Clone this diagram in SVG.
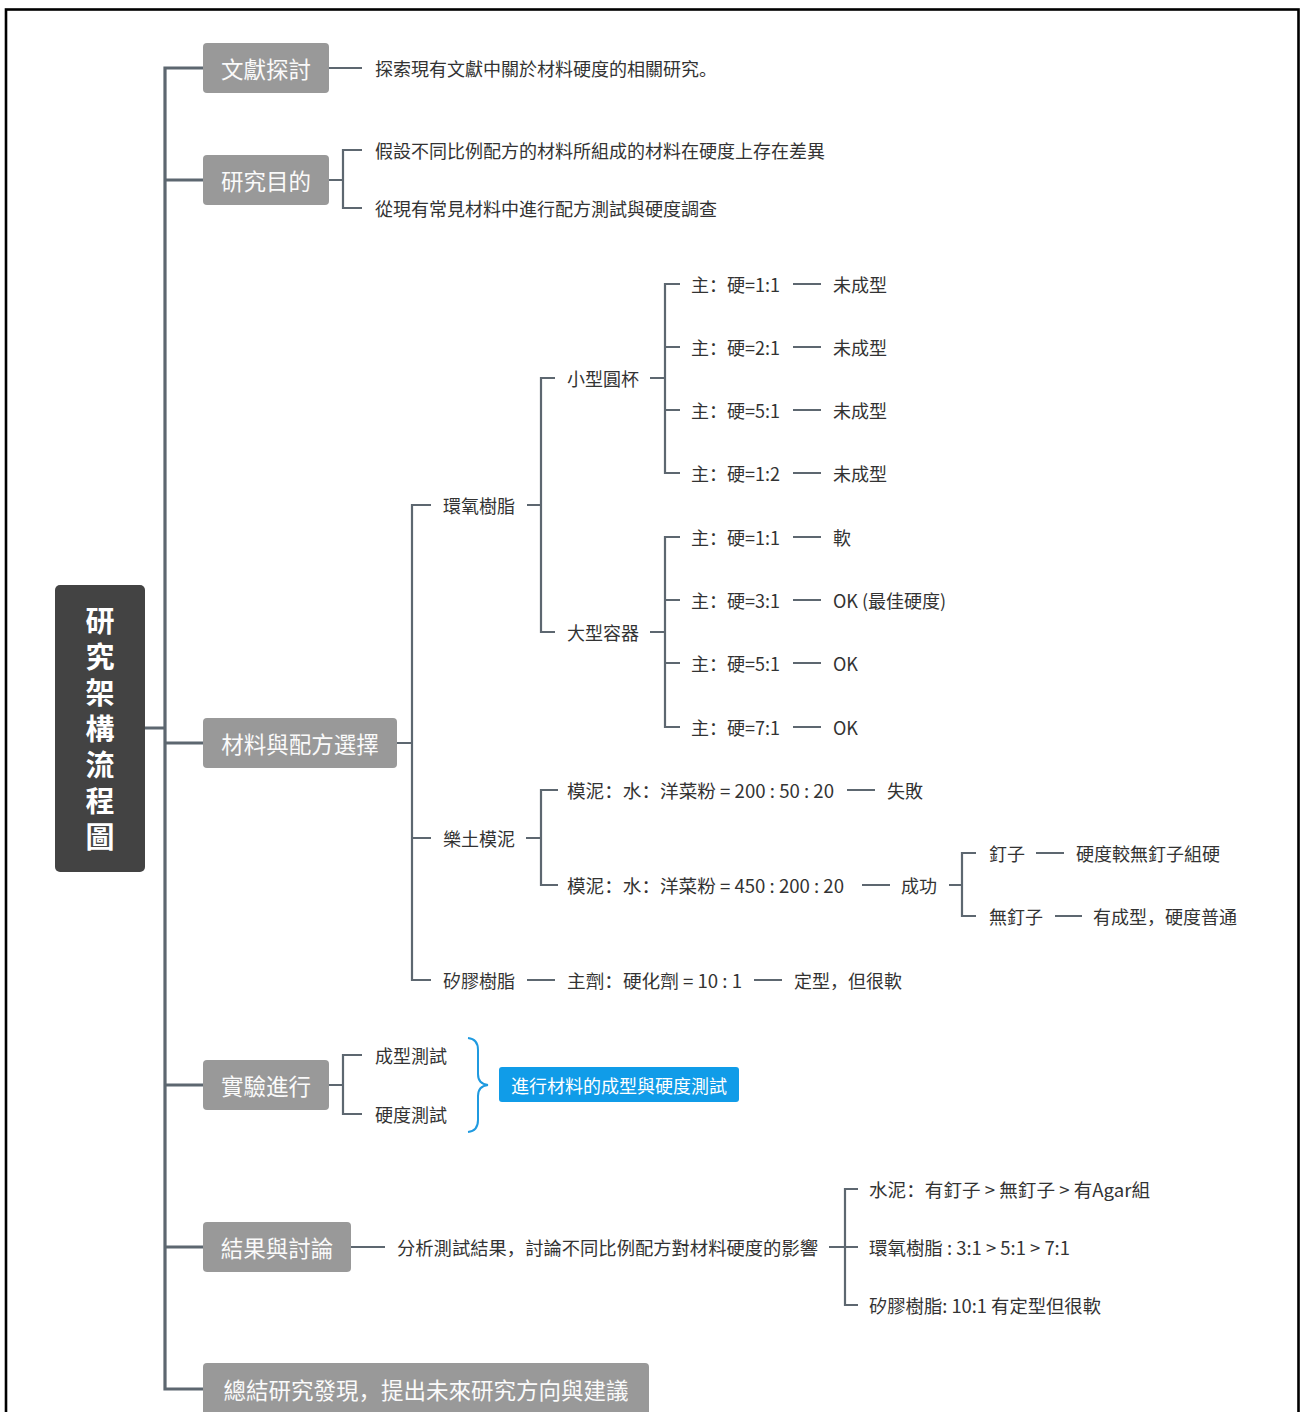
<svg xmlns="http://www.w3.org/2000/svg" width="1301" height="1412" viewBox="0 0 1301 1412">
<style>
.t{font-family:"Noto Sans CJK SC","Noto Sans CJK TC",sans-serif;font-size:18px;fill:#333;dominant-baseline:central}
.bt{font-family:"Noto Sans CJK SC","Noto Sans CJK TC",sans-serif;font-size:22.5px;fill:#fafafa;dominant-baseline:central;text-anchor:middle}
.rt{font-family:"Noto Sans CJK TC","Noto Sans CJK SC",sans-serif;font-size:29px;font-weight:bold;fill:#fff;writing-mode:vertical-rl;letter-spacing:7px}
.box{fill:#999999}
.c1{fill:none;stroke:#5d6770;stroke-width:3.2}
.c2{fill:none;stroke:#5d6770;stroke-width:2.2}
</style>
<rect x="0" y="0" width="1301" height="1412" fill="#fff"/>
<rect x="6" y="9.5" width="1292.5" height="1420" fill="none" stroke="#000" stroke-width="2.6"/>

<g id="connectors">
<path class="c1" d="M145,728 H165 M203,68 H165 V1389 H203 M165,180 H203 M165,743 H203 M165,1085 H203 M165,1247 H203"/>
<path class="c2" d="M329,68 H362"/>
<path class="c2" d="M329,180 H343 M362,150 H343 V208 H362"/>
<path class="c2" d="M397,743 H412 M431,505 H412 V980 H431 M412,838 H431"/>
<path class="c2" d="M527,505 H541 M555,378 H541 V632 H555"/>
<path class="c2" d="M650,378 H665 M680,284 H665 V473 H680 M665,347 H680 M665,410 H680"/>
<path class="c2" d="M793,284 H821 M793,347 H821 M793,410 H821 M793,473 H821"/>
<path class="c2" d="M650,632 H665 M680,537 H665 V727 H680 M665,600 H680 M665,663 H680"/>
<path class="c2" d="M793,537 H821 M793,600 H821 M793,663 H821 M793,727 H821"/>
<path class="c2" d="M526,838 H541 M558,790 H541 V885 H558"/>
<path class="c2" d="M847,790 H875 M862,885 H890"/>
<path class="c2" d="M949,885 H962 M976,853 H962 V916 H976"/>
<path class="c2" d="M1036,853 H1064 M1055,916 H1082"/>
<path class="c2" d="M527,980 H555 M754,980 H782"/>
<path class="c2" d="M329,1085 H343 M362,1055 H343 V1114 H362"/>
<path class="c2" d="M351,1247 H385 M829,1247 H858 M858,1189 H845 V1305 H858"/>
<path fill="none" stroke="#1f9ae0" stroke-width="2" d="M468,1038 Q478,1039 478,1050 V1074 Q478,1084 488,1085 Q478,1086 478,1096 V1120 Q478,1131 468,1132"/>
</g>

<g id="root">
<rect x="55" y="585" width="90" height="287" rx="5" fill="#434343"/>
<text class="rt" x="100" y="606.5">研究架構流程圖</text>
</g>

<g id="n-literature">
<rect class="box" x="203" y="43" width="126" height="50" rx="4"/>
<text class="bt" x="266" y="68">文獻探討</text>
</g>
<g id="n-literature-1"><text class="t" x="375" y="68">探索現有文獻中關於材料硬度的相關研究。</text></g>

<g id="n-purpose">
<rect class="box" x="203" y="155" width="126" height="50" rx="4"/>
<text class="bt" x="266" y="180">研究目的</text>
</g>
<g id="n-purpose-1"><text class="t" x="375" y="150">假設不同比例配方的材料所組成的材料在硬度上存在差異</text></g>
<g id="n-purpose-2"><text class="t" x="375" y="208">從現有常見材料中進行配方測試與硬度調查</text></g>

<g id="n-material">
<rect class="box" x="203" y="718" width="194" height="50" rx="4"/>
<text class="bt" x="300" y="743">材料與配方選擇</text>
</g>
<g id="n-epoxy"><text class="t" x="443" y="505">環氧樹脂</text></g>
<g id="n-small"><text class="t" x="567" y="378">小型圓杯</text></g>
<g id="n-s1"><text class="t" x="691" y="284">主：硬=1:1</text><text class="t" x="833" y="284">未成型</text></g>
<g id="n-s2"><text class="t" x="691" y="347">主：硬=2:1</text><text class="t" x="833" y="347">未成型</text></g>
<g id="n-s3"><text class="t" x="691" y="410">主：硬=5:1</text><text class="t" x="833" y="410">未成型</text></g>
<g id="n-s4"><text class="t" x="691" y="473">主：硬=1:2</text><text class="t" x="833" y="473">未成型</text></g>
<g id="n-large"><text class="t" x="567" y="632">大型容器</text></g>
<g id="n-l1"><text class="t" x="691" y="537">主：硬=1:1</text><text class="t" x="833" y="537">軟</text></g>
<g id="n-l2"><text class="t" x="691" y="600">主：硬=3:1</text><text class="t" x="833" y="600">OK (最佳硬度)</text></g>
<g id="n-l3"><text class="t" x="691" y="663">主：硬=5:1</text><text class="t" x="833" y="663">OK</text></g>
<g id="n-l4"><text class="t" x="691" y="727">主：硬=7:1</text><text class="t" x="833" y="727">OK</text></g>

<g id="n-clay"><text class="t" x="443" y="838">樂土模泥</text></g>
<g id="n-c1"><text class="t" x="567" y="790" textLength="267" lengthAdjust="spacingAndGlyphs">模泥：水：洋菜粉 = 200 : 50 : 20</text><text class="t" x="887" y="790">失敗</text></g>
<g id="n-c2"><text class="t" x="567" y="885" textLength="277" lengthAdjust="spacingAndGlyphs">模泥：水：洋菜粉 = 450 : 200 : 20</text><text class="t" x="901" y="885">成功</text></g>
<g id="n-nail"><text class="t" x="989" y="853">釘子</text><text class="t" x="1076" y="853">硬度較無釘子組硬</text></g>
<g id="n-nonail"><text class="t" x="989" y="916">無釘子</text><text class="t" x="1093" y="916">有成型，硬度普通</text></g>

<g id="n-silicone"><text class="t" x="443" y="980">矽膠樹脂</text><text class="t" x="567" y="980" textLength="175" lengthAdjust="spacingAndGlyphs">主劑：硬化劑 = 10 : 1</text><text class="t" x="794" y="980">定型，但很軟</text></g>

<g id="n-experiment">
<rect class="box" x="203" y="1060" width="126" height="50" rx="4"/>
<text class="bt" x="266" y="1085">實驗進行</text>
</g>
<g id="n-e1"><text class="t" x="375" y="1055">成型測試</text></g>
<g id="n-e2"><text class="t" x="375" y="1114">硬度測試</text></g>
<g id="n-summary-blue">
<rect x="499" y="1067" width="240" height="35" rx="3" fill="#109ce8"/>
<text class="t" x="619" y="1085" style="fill:#fff;text-anchor:middle">進行材料的成型與硬度測試</text>
</g>

<g id="n-results">
<rect class="box" x="203" y="1222" width="148" height="50" rx="4"/>
<text class="bt" x="277" y="1247">結果與討論</text>
</g>
<g id="n-r0"><text class="t" x="397" y="1247" textLength="421" lengthAdjust="spacingAndGlyphs">分析測試結果，討論不同比例配方對材料硬度的影響</text></g>
<g id="n-r1"><text class="t" x="869" y="1189" textLength="281" lengthAdjust="spacingAndGlyphs">水泥：有釘子 &gt; 無釘子 &gt; 有Agar組</text></g>
<g id="n-r2"><text class="t" x="869" y="1247" textLength="201" lengthAdjust="spacingAndGlyphs">環氧樹脂 : 3:1 &gt; 5:1 &gt; 7:1</text></g>
<g id="n-r3"><text class="t" x="869" y="1305" textLength="232" lengthAdjust="spacingAndGlyphs">矽膠樹脂: 10:1 有定型但很軟</text></g>

<g id="n-conclusion">
<rect class="box" x="203" y="1363" width="446" height="62" rx="4"/>
<text class="bt" x="426" y="1389">總結研究發現，提出未來研究方向與建議</text>
</g>
</svg>
